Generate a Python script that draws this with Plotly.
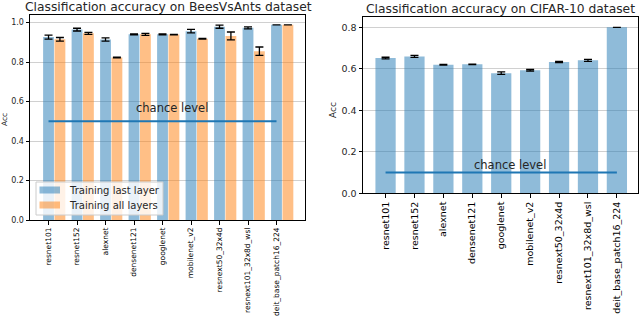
import plotly.graph_objects as go

models = ["resnet101", "resnet152", "alexnet", "densenet121", "googlenet",
          "mobilenet_v2", "resnext50_32x4d", "resnext101_32x8d_wsl", "deit_base_patch16_224"]

# BeesVsAnts
bees_last = [0.926, 0.964, 0.914, 0.940, 0.940, 0.956, 0.979, 0.973, 0.988]
bees_last_err = [0.010, 0.007, 0.008, 0.002, 0.002, 0.009, 0.008, 0.005, 0.0]
bees_all = [0.915, 0.945, 0.823, 0.940, 0.939, 0.918, 0.932, 0.855, 0.988]
bees_all_err = [0.009, 0.005, 0.002, 0.005, 0.001, 0.002, 0.020, 0.021, 0.0]

# CIFAR-10
cifar_last = [0.652, 0.660, 0.620, 0.622, 0.579, 0.593, 0.633, 0.641, 0.800]
cifar_last_err = [0.004, 0.005, 0.002, 0.001, 0.006, 0.004, 0.003, 0.005, 0.0]

bees_chance = 0.5
cifar_chance = 0.1

legend_labels = ["Training last layer", "Training all layers"]

idx = list(range(len(models)))
BLUE = "rgba(31,119,180,0.5)"
ORANGE = "rgba(255,127,14,0.5)"
LINE_BLUE = "#1f77b4"
FONT = "DejaVu Sans"
W, H = 640, 319

def px(xp):
    return xp / W

def py(yp):
    return 1 - yp / H

fig = go.Figure()

fig.add_trace(go.Bar(x=idx, y=bees_last, width=0.38, offset=-0.19,
                     marker=dict(color=BLUE, line=dict(width=0)),
                     error_y=dict(type="data", array=bees_last_err, color="black", thickness=1.3, width=4),
                     name=legend_labels[0], showlegend=False, xaxis="x", yaxis="y"))
fig.add_trace(go.Bar(x=idx, y=bees_all, width=0.38, offset=0.21,
                     marker=dict(color=ORANGE, line=dict(width=0)),
                     error_y=dict(type="data", array=bees_all_err, color="black", thickness=1.3, width=4),
                     name=legend_labels[1], showlegend=False, xaxis="x", yaxis="y"))
fig.add_trace(go.Scatter(x=[idx[0], idx[-1]], y=[bees_chance, bees_chance], mode="lines",
                         line=dict(color=LINE_BLUE, width=2), showlegend=False,
                         xaxis="x", yaxis="y"))

fig.add_trace(go.Bar(x=idx, y=cifar_last, width=0.7,
                     marker=dict(color=BLUE, line=dict(width=0)),
                     error_y=dict(type="data", array=cifar_last_err, color="black", thickness=1.3, width=4),
                     showlegend=False, xaxis="x2", yaxis="y2"))
fig.add_trace(go.Scatter(x=[idx[0], idx[-1]], y=[cifar_chance, cifar_chance], mode="lines",
                         line=dict(color=LINE_BLUE, width=2), showlegend=False,
                         xaxis="x2", yaxis="y2"))

axis_common = dict(showline=True, linecolor="black", linewidth=1, mirror=True,
                   ticks="outside", ticklen=3.5, tickcolor="black", zeroline=False,
                   automargin=False)

# manual legend (matplotlib-style)
shapes = [
    dict(type="rect", xref="paper", yref="paper",
         x0=px(36), x1=px(163), y0=py(215), y1=py(182),
         fillcolor="rgba(255,255,255,0.8)", line=dict(color="#cccccc", width=1), layer="above"),
    dict(type="rect", xref="paper", yref="paper",
         x0=px(39.5), x1=px(60), y0=py(193.5), y1=py(186.5),
         fillcolor=BLUE, line=dict(width=0), layer="above"),
    dict(type="rect", xref="paper", yref="paper",
         x0=px(39.5), x1=px(60), y0=py(208.5), y1=py(201.5),
         fillcolor=ORANGE, line=dict(width=0), layer="above"),
]

annotations = [
    dict(text="Classification accuracy on BeesVsAnts dataset", x=px(168), y=py(7.5),
         xref="paper", yref="paper", xanchor="center", yanchor="middle",
         showarrow=False, font=dict(size=12.3, color="#262626")),
    dict(text="Classification accuracy on CIFAR-10 dataset", x=px(500.5), y=py(9.5),
         xref="paper", yref="paper", xanchor="center", yanchor="middle",
         showarrow=False, font=dict(size=12.3, color="#262626")),
    dict(text="Acc", x=px(5), y=py(120), xref="paper", yref="paper",
         xanchor="center", yanchor="middle", textangle=-90, showarrow=False,
         font=dict(size=7.5, color="#262626")),
    dict(text="Acc", x=px(333), y=py(110), xref="paper", yref="paper",
         xanchor="center", yanchor="middle", textangle=-90, showarrow=False,
         font=dict(size=9, color="#262626")),
    dict(text="chance level", x=3, y=0.569, xref="x", yref="y",
         xanchor="left", yanchor="middle", showarrow=False,
         font=dict(size=11.5, color="#262626")),
    dict(text="chance level", x=3, y=0.136, xref="x2", yref="y2",
         xanchor="left", yanchor="middle", showarrow=False,
         font=dict(size=11.5, color="#262626")),
    dict(text=legend_labels[0], x=px(67), y=py(190), xref="paper", yref="paper",
         xanchor="left", yanchor="middle", showarrow=False,
         font=dict(size=10, color="#262626")),
    dict(text=legend_labels[1], x=px(67), y=py(205), xref="paper", yref="paper",
         xanchor="left", yanchor="middle", showarrow=False,
         font=dict(size=10, color="#262626")),
]

fig.update_layout(
    width=W, height=H,
    margin=dict(l=0, r=0, t=0, b=0, autoexpand=False),
    paper_bgcolor="white", plot_bgcolor="white",
    barmode="overlay",
    showlegend=False,
    font=dict(family=FONT, color="#262626"),
    xaxis=dict(domain=[px(30), px(305)], range=[-0.65, 9.0],
               tickvals=idx, ticktext=models, tickangle=-90,
               tickfont=dict(size=7.5, color="black"), showgrid=False, **axis_common),
    yaxis=dict(domain=[py(220), py(15)], range=[0, 1.038],
               tickvals=[0, 0.2, 0.4, 0.6, 0.8, 1.0], tickformat=".1f",
               tickfont=dict(size=8, color="#262626"), showgrid=True,
               gridcolor="rgba(176,176,176,0.6)", gridwidth=1, **axis_common),
    xaxis2=dict(domain=[px(363), px(638)], range=[-0.78, 8.73],
                tickvals=idx, ticktext=models, tickangle=-90,
                tickfont=dict(size=9.5, color="black"), showgrid=False, anchor="y2", **axis_common),
    yaxis2=dict(domain=[py(193.3), py(17)], range=[0, 0.85],
                tickvals=[0, 0.2, 0.4, 0.6, 0.8], tickformat=".1f",
                tickfont=dict(size=9.5, color="#262626"), showgrid=True,
                gridcolor="rgba(176,176,176,0.6)", gridwidth=1, anchor="x2", **axis_common),
    shapes=shapes,
    annotations=annotations,
)

fig.write_html(
    "out.html",
    config={"displayModeBar": False},
    post_script="document.body.style.margin='0';document.body.style.padding='0';"
                "document.documentElement.style.overflow='hidden';",
)
